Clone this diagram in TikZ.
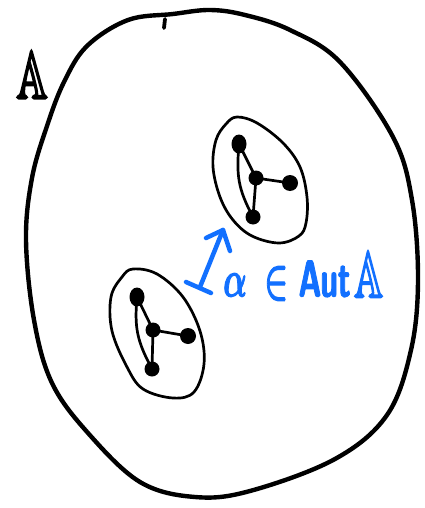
\documentclass[tikz,border=0pt]{standalone}
\usepackage{amssymb}
\usepackage{amsmath}
\usepackage{bm}
\usepackage{graphicx}
\usetikzlibrary{shapes.geometric}
\definecolor{blueink}{RGB}{18,112,255}
\newcommand{\thickglyphs}[2]{\special{pdf:literal direct 2 Tr #1 w}#2\special{pdf:literal direct 0 Tr}}
\tikzset{
  ink/.style={line width=4.4pt, line cap=round, line join=round},
  thinink/.style={line width=2.7pt, line cap=round, line join=round},
  blueline/.style={draw=blueink, line width=4.5pt, line cap=round, line join=round},
  vtx/.style={circle, fill=black, inner sep=0pt, minimum size=15pt},
  bigvtx/.style={ellipse, fill=black, inner sep=0pt, minimum width=15pt, minimum height=19pt},
}
\begin{document}
\begin{tikzpicture}[x=1pt, y=-1pt]
\useasboundingbox[fill=white] (0,0) rectangle (424,508);

% outer blob
\draw[ink] plot[smooth cycle, tension=0.6] coordinates {
 (210,10) (245,15) (290,30) (340,62) (393,137) (412,200)
 (418,280) (411,350) (387,415) (335,459) (250,491) (195,497)
 (140,482) (88,433) (52,383) (34,320) (26,240) (32,178)
 (47,126) (64,82) (87,46) (128,20) (173,14)};
\coordinate (m1) at (165,19);
\coordinate (m2) at (164,28);
\draw[line width=3.8pt, line cap=round] (m1) -- (m2);

% label A
\node (labA) at (32,75) {\resizebox{31pt}{47pt}{\thickglyphs{0.35}{$\mathbb{A}$}}};

% top cluster
\draw[thinink] plot[smooth cycle, tension=0.6] coordinates {
 (237,117) (257,123) (283,143) (300,167) (307,197) (306,223) (299,236)
 (279,243) (252,236) (233,220) (220,197) (213,167) (216,140) (226,124)};
\node[bigvtx] (t1) at (239,144) {};
\node[vtx] (t2) at (256,178) {};
\node[vtx, minimum size=16pt] (t3) at (290,183) {};
\node[vtx] (t4) at (253,217) {};
\draw[thinink] (t1.center) -- (t2.center);
\draw[thinink] (t2.center) -- (t3.center);
\draw[thinink] (t2.center) -- (t4.center);
\draw[thinink] (t1.center) to[out=-95, in=118, looseness=1.1] (t4.center);

% bottom cluster
\draw[thinink] plot[smooth cycle, tension=0.6] coordinates {
 (133,269) (157,274) (183,297) (200,331) (204,364) (194,392) (173,398)
 (143,389) (127,367) (112,331) (111,297) (122,277)};
\node[bigvtx] (b1) at (137,297) {};
\node[vtx] (b2) at (153,330) {};
\node[vtx, minimum size=16pt] (b3) at (188,336) {};
\node[vtx] (b4) at (152,369) {};
\draw[thinink] (b1.center) -- (b2.center);
\draw[thinink] (b2.center) -- (b3.center);
\draw[thinink] (b2.center) -- (b4.center);
\draw[thinink] (b1.center) to[out=-95, in=118, looseness=1.1] (b4.center);

% blue arrow
\coordinate (a0) at (186,282);
\coordinate (a1) at (211,293);
\coordinate (a2) at (200,287);
\coordinate (tip) at (223,230);
\coordinate (bl) at (206,238);
\coordinate (br) at (230,251);
\draw[blueline] (a0) -- (a1);
\draw[blueline] (a2) -- (tip);
\draw[blueline] (bl) -- (tip) -- (br);

% blue label
\node[anchor=south west, inner sep=0pt, text=blueink] (lab) at (223,301)
 {\resizebox{160pt}{45pt}{\thickglyphs{0.25}{$\bm{\alpha}\mkern5mu\bm{\in}\mkern1mu\textsf{\bfseries Aut}\mkern2mu\raisebox{-0.02em}{\scalebox{1.3}{$\mathbb{A}$}}$}}};
\end{tikzpicture}
\end{document}
